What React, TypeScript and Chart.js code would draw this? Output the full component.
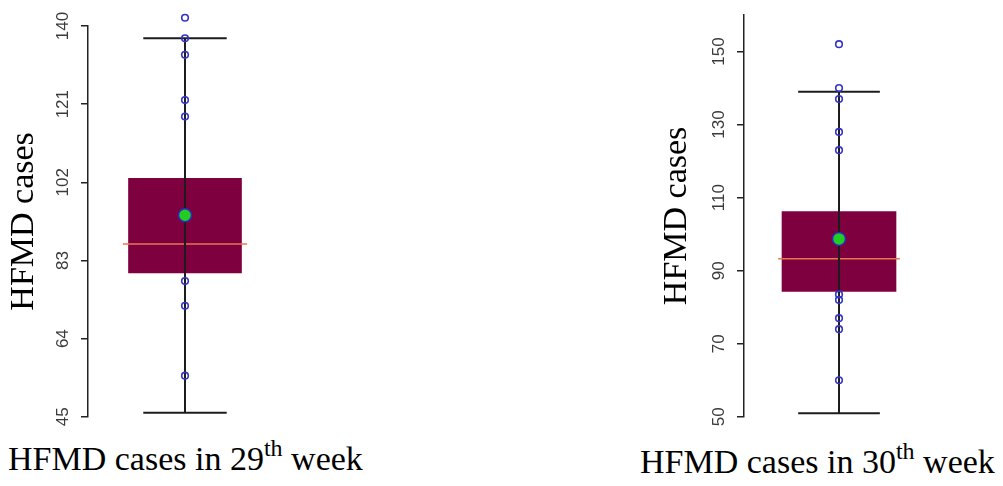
import React, { useEffect, useRef } from 'react';
import { Chart, registerables } from 'chart.js';

Chart.register(...registerables);

// ---- data ----
const weekNumbers = ['29', '30'];
const q1Values = [80, 84.3];
const medianValues = [87, 93.3];
const q3Values = [103, 106.2];
const meanValues = [94, 98.7];
const whiskerLowValues = [46, 51];
const whiskerHighValues = [137, 139];
const week29Points = [142, 137, 133, 122, 118, 78, 72, 55];
const week30Points = [152, 140, 137, 128, 123, 83.5, 82, 77, 74, 60];
const week29Ticks = [45, 64, 83, 102, 121, 140];
const week30Ticks = [50, 70, 90, 110, 130, 150];
const axisMinValues = [45, 50];
const axisMaxValues = [140, 160];
const yTitle = 'HFMD cases';

const pointSets = [week29Points, week30Points];
const tickSets = [week29Ticks, week30Ticks];

// ---- layout / styling ----
const panels = [
  { left: 0, width: 300, axisWidth: 88, padTop: 26, padRight: 18, titlePad: 4, boxWidth: 113, labelLeft: 8, labelTop: 442 },
  { left: 640, width: 363, axisWidth: 104, padTop: 15, padRight: 69, titlePad: 17, boxWidth: 114, labelLeft: 640, labelTop: 445 },
];
const CANVAS_H = 431;
const PAD_BOTTOM = 14;
const CENTER = 0.5;
const CAP_HALF = 0.215;
const MEDIAN_HALF = 0.32;

const serif = "'Liberation Serif', 'Times New Roman', Times, serif";
const sans = "'Liberation Sans', Arial, Helvetica, sans-serif";

// lets points just beyond the axis range (like R's unclipped points) still be drawn
const looseArea = {
  id: 'looseArea',
  beforeDatasetsDraw(chart: any) {
    chart.$savedArea = chart.chartArea;
    const a = chart.chartArea;
    chart.chartArea = { ...a, top: a.top - 30, bottom: a.bottom + 30 };
  },
  afterDatasetsDraw(chart: any) {
    if (chart.$savedArea) chart.chartArea = chart.$savedArea;
  },
};

function BoxPanel({ idx }: { idx: number }) {
  const ref = useRef<HTMLCanvasElement>(null);
  const p = panels[idx];
  useEffect(() => {
    if (!ref.current) return;
    const lo = whiskerLowValues[idx];
    const hi = whiskerHighValues[idx];
    const ticks = tickSets[idx];
    const chart = new Chart(ref.current, {
      type: 'bar',
      plugins: [looseArea],
      data: {
        datasets: [
          {
            type: 'bar',
            data: [{ x: CENTER, y: [q1Values[idx], q3Values[idx]] }] as any,
            backgroundColor: '#7F003F',
            borderWidth: 0,
            barThickness: p.boxWidth,
            order: 6,
          },
          {
            type: 'line',
            data: [{ x: CENTER - MEDIAN_HALF, y: medianValues[idx] }, { x: CENTER + MEDIAN_HALF, y: medianValues[idx] }],
            borderColor: '#E8764F',
            borderWidth: 1.5,
            pointRadius: 0,
            order: 5,
          },
          {
            type: 'line',
            data: [{ x: CENTER, y: lo }, { x: CENTER, y: hi }],
            borderColor: '#1c1c1c',
            borderWidth: 2,
            pointRadius: 0,
            order: 4,
          },
          {
            type: 'line',
            data: [{ x: CENTER - CAP_HALF, y: hi }, { x: CENTER + CAP_HALF, y: hi }],
            borderColor: '#1c1c1c',
            borderWidth: 2,
            pointRadius: 0,
            order: 4,
          },
          {
            type: 'line',
            data: [{ x: CENTER - CAP_HALF, y: lo }, { x: CENTER + CAP_HALF, y: lo }],
            borderColor: '#1c1c1c',
            borderWidth: 2,
            pointRadius: 0,
            order: 4,
          },
          {
            type: 'scatter',
            data: pointSets[idx].map((v) => ({ x: CENTER, y: v })),
            pointRadius: 3.3,
            pointBorderWidth: 1.6,
            pointBorderColor: '#3434C8',
            pointBackgroundColor: 'rgba(0,0,0,0)',
            clip: false as any,
            order: 2,
          },
          {
            type: 'scatter',
            data: [{ x: CENTER, y: meanValues[idx] }],
            pointRadius: 6.5,
            pointBorderWidth: 1.5,
            pointBorderColor: '#2A2AC0',
            pointBackgroundColor: '#22CC22',
            clip: false as any,
            order: 1,
          },
        ] as any,
      },
      options: {
        animation: false,
        responsive: false,
        devicePixelRatio: 1,
        events: [],
        layout: { padding: { top: p.padTop, bottom: PAD_BOTTOM, left: 0, right: p.padRight } },
        plugins: { legend: { display: false }, tooltip: { enabled: false }, title: { display: false } },
        scales: {
          x: {
            type: 'linear',
            min: 0,
            max: 1,
            offset: false,
            display: false,
          },
          y: {
            type: 'linear',
            min: axisMinValues[idx],
            max: axisMaxValues[idx],
            beginAtZero: false,
            afterBuildTicks: (scale: any) => {
              scale.ticks = ticks.map((v) => ({ value: v }));
            },
            afterFit: (scale: any) => {
              scale.width = p.axisWidth;
            },
            border: { display: true, color: '#222', width: 1.5 },
            grid: { display: true, drawOnChartArea: false, drawTicks: true, tickLength: 7, color: '#222', lineWidth: 1.5 },
            ticks: {
              autoSkip: false,
              minRotation: 90,
              maxRotation: 90,
              crossAlign: 'center',
              padding: 4,
              color: '#3a3a3a',
              font: { family: sans, size: 17 },
            },
            title: {
              display: true,
              text: yTitle,
              color: '#000',
              font: { family: serif, size: 34, weight: 'normal' },
              padding: { top: p.titlePad, bottom: 0 },
            },
          },
        },
      } as any,
    });
    return () => chart.destroy();
  }, [idx]);
  return (
    <canvas
      ref={ref}
      width={p.width}
      height={CANVAS_H}
      style={{ position: 'absolute', left: p.left, top: 0, width: p.width, height: CANVAS_H }}
    />
  );
}

function WeekLabel({ idx }: { idx: number }) {
  const p = panels[idx];
  return (
    <div
      style={{
        position: 'absolute',
        left: p.labelLeft,
        top: p.labelTop,
        fontFamily: serif,
        fontSize: 34,
        lineHeight: '34px',
        whiteSpace: 'nowrap',
        color: '#000',
      }}
    >
      {'HFMD cases in ' + weekNumbers[idx]}
      <span style={{ fontSize: 24, position: 'relative', top: -14 }}>th</span>
      {' week'}
    </div>
  );
}

export default function App() {
  return (
    <div style={{ position: 'absolute', left: 0, top: 0, width: 1003, height: 486, background: '#fff', overflow: 'hidden' }}>
      <BoxPanel idx={0} />
      <BoxPanel idx={1} />
      <WeekLabel idx={0} />
      <WeekLabel idx={1} />
    </div>
  );
}
